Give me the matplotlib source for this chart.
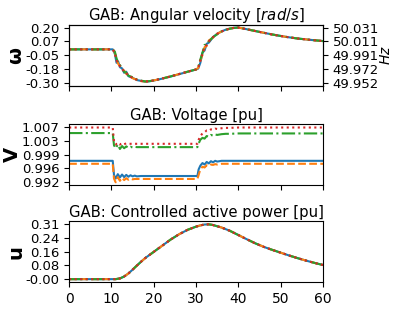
import numpy as np
import matplotlib
matplotlib.use("Agg")
import matplotlib.pyplot as plt

# time grids (s)
t_w = [0, 10.3, 10.8, 11.2, 11.6, 12.0, 12.5, 13.0, 13.5, 14, 15, 16, 17, 18, 19, 20, 22, 24, 26, 28, 30,
       30.5, 31, 31.5, 32, 32.5, 33, 34, 35, 36, 37, 38, 39, 40, 42, 45, 48, 51, 54, 57, 60]
t_v = [0, 10.3, 10.6, 11.0, 11.5, 12.0, 12.5, 13.0, 13.5, 14.0, 14.5, 15.0, 15.5, 16, 17, 18, 20, 25, 30.3,
       30.6, 31, 31.5, 32, 32.5, 33, 33.5, 34, 34.5, 35, 36, 37, 38, 40, 45, 50, 60]
t_u = [0, 10, 11, 12, 13, 14, 15, 16, 17, 18, 20, 22, 24, 26, 28, 30, 31, 32, 33, 34, 36, 38, 40,
       42, 44, 46, 48, 50, 52, 54, 56, 58, 60]

# angular velocity [rad/s], four machines
w_1 = [0, 0, -0.04, -0.12, -0.11, -0.16, -0.17, -0.21, -0.20, -0.24, -0.255, -0.275, -0.282, -0.290, -0.286,
       -0.279, -0.262, -0.243, -0.222, -0.201, -0.180, -0.172, -0.12, -0.03, -0.01, 0.05, 0.06, 0.11, 0.14,
       0.16, 0.176, 0.186, 0.193, 0.195, 0.180, 0.156, 0.133, 0.113, 0.097, 0.085, 0.074]
w_2 = [0, 0, -0.03, -0.09, -0.13, -0.15, -0.18, -0.19, -0.22, -0.23, -0.258, -0.272, -0.285, -0.288, -0.285,
       -0.278, -0.261, -0.242, -0.221, -0.200, -0.180, -0.165, -0.10, -0.05, 0.02, 0.03, 0.08, 0.105, 0.14,
       0.16, 0.175, 0.186, 0.193, 0.195, 0.180, 0.156, 0.133, 0.113, 0.097, 0.085, 0.074]
w_3 = [0, 0, -0.02, -0.08, -0.12, -0.14, -0.17, -0.20, -0.21, -0.235, -0.25, -0.27, -0.280, -0.287, -0.284,
       -0.278, -0.261, -0.242, -0.221, -0.200, -0.180, -0.160, -0.09, -0.03, 0.04, 0.04, 0.07, 0.11, 0.135,
       0.16, 0.175, 0.185, 0.192, 0.195, 0.180, 0.156, 0.133, 0.113, 0.097, 0.085, 0.074]
w_4 = [0, 0, -0.03, -0.10, -0.12, -0.15, -0.17, -0.20, -0.21, -0.235, -0.255, -0.272, -0.282, -0.288, -0.285,
       -0.278, -0.261, -0.242, -0.221, -0.200, -0.180, -0.165, -0.10, -0.04, 0.02, 0.04, 0.07, 0.11, 0.14,
       0.16, 0.175, 0.186, 0.193, 0.195, 0.180, 0.156, 0.133, 0.113, 0.097, 0.085, 0.074]

# voltage [pu]
v_1 = [0.9978, 0.9978, 0.9940, 0.9930, 0.9942, 0.9933, 0.9941, 0.9934, 0.9940, 0.9935, 0.9939, 0.9936,
       0.9938, 0.9936, 0.9937, 0.9937, 0.9937, 0.9937, 0.9937, 0.9955, 0.9965, 0.9972, 0.9968, 0.9975,
       0.9971, 0.9977, 0.9974, 0.9978, 0.9976, 0.9978, 0.9978, 0.9978, 0.9978, 0.9978, 0.9978, 0.9978]
v_2 = [0.9970, 0.9970, 0.9930, 0.9920, 0.9934, 0.9924, 0.9932, 0.9926, 0.9931, 0.9927, 0.9930, 0.9928,
       0.9929, 0.9929, 0.9929, 0.9929, 0.9929, 0.9929, 0.9929, 0.9940, 0.9955, 0.9962, 0.9960, 0.9966,
       0.9964, 0.9968, 0.9967, 0.9969, 0.9968, 0.9970, 0.9970, 0.9970, 0.9970, 0.9970, 0.9970, 0.9970]
v_3 = [1.0053, 1.0053, 1.0020, 1.0012, 1.0022, 1.0010, 1.0018, 1.0012, 1.0017, 1.0013, 1.0016, 1.0014,
       1.0016, 1.0015, 1.0015, 1.0015, 1.0015, 1.0015, 1.0015, 1.0025, 1.0035, 1.0040, 1.0038, 1.0045,
       1.0043, 1.0048, 1.0046, 1.0049, 1.0048, 1.0050, 1.0051, 1.0051, 1.0052, 1.0052, 1.0052, 1.0052]
v_4 = [1.0068, 1.0068, 1.0030, 1.0022, 1.0027, 1.0022, 1.0026, 1.0023, 1.0025, 1.0024, 1.0024, 1.0024,
       1.0024, 1.0024, 1.0024, 1.0024, 1.0024, 1.0024, 1.0024, 1.0035, 1.0045, 1.0052, 1.0055, 1.0060,
       1.0059, 1.0063, 1.0062, 1.0065, 1.0064, 1.0066, 1.0067, 1.0067, 1.0068, 1.0068, 1.0068, 1.0068]

# controlled active power [pu] (same for all four)
u_all = [0, 0, 0, 0.004, 0.015, 0.032, 0.054, 0.077, 0.099, 0.12, 0.155, 0.19, 0.225, 0.255, 0.28, 0.298,
         0.305, 0.31, 0.311, 0.307, 0.293, 0.274, 0.25, 0.226, 0.203, 0.183, 0.166, 0.15, 0.134, 0.119,
         0.105, 0.092, 0.08]

w_ticks = [-0.302, -0.17775, -0.0535, 0.07075, 0.195]
v_ticks = [0.992, 0.99575, 0.9995, 1.00325, 1.007]
v_labels = ["0.992", "0.996", "0.999", "1.003", "1.007"]
u_ticks = [-0.001, 0.07775, 0.1565, 0.23525, 0.314]

styles = [("C0", "-"), ("C1", "--"), ("C2", "-."), ("C3", ":")]

fig = plt.figure(figsize=(3.95, 3.10), dpi=100)
ax1 = fig.add_axes([0.175, 0.723, 0.643, 0.197])
ax2 = fig.add_axes([0.175, 0.403, 0.643, 0.197], sharex=ax1)
ax3 = fig.add_axes([0.175, 0.090, 0.643, 0.197], sharex=ax1)

for w, (c, ls) in zip([w_1, w_2, w_3, w_4], styles):
    ax1.plot(t_w, w, color=c, linestyle=ls, linewidth=1.5)
for v, (c, ls) in zip([v_1, v_2, v_3, v_4], styles):
    ax2.plot(t_v, v, color=c, linestyle=ls, linewidth=1.5)
for c, ls in styles:
    ax3.plot(t_u, u_all, color=c, linestyle=ls, linewidth=1.5)

ax1.set_xlim(0, 60)
fs = 9.5
tfs = 10.7

def pad(lo, hi):
    m = 0.05 * (hi - lo)
    return lo - m, hi + m

ax1.set_ylim(*pad(w_ticks[0], w_ticks[-1]))
ax1.set_yticks(w_ticks)
ax1.set_yticklabels([f"{x:.2f}" for x in w_ticks])
ax1.set_title("GAB: Angular velocity [$rad/s$]", fontsize=tfs, pad=3)
ax1.set_ylabel("ω", fontsize=14, fontweight="bold", labelpad=0)

axr = ax1.twinx()
lo, hi = ax1.get_ylim()
axr.set_ylim(50 + lo / (2 * np.pi), 50 + hi / (2 * np.pi))
hz_ticks = [50 + x / (2 * np.pi) for x in w_ticks]
axr.set_yticks(hz_ticks)
axr.set_yticklabels([f"{x:.3f}" for x in hz_ticks])
axr.set_ylabel("$Hz$", fontsize=10, labelpad=0)
axr.tick_params(labelsize=fs)

ax2.set_ylim(*pad(v_ticks[0], v_ticks[-1]))
ax2.set_yticks(v_ticks)
ax2.set_yticklabels(v_labels)
ax2.set_title("GAB: Voltage [pu]", fontsize=tfs, pad=3)
ax2.set_ylabel("V", fontsize=14, fontweight="bold", labelpad=0)

ax3.set_ylim(*pad(u_ticks[0], u_ticks[-1]))
ax3.set_yticks(u_ticks)
ax3.set_yticklabels([f"{x:.2f}" for x in u_ticks])
ax3.set_title("GAB: Controlled active power [pu]", fontsize=tfs, pad=3)
ax3.set_ylabel("u", fontsize=14, fontweight="bold", labelpad=0)
ax3.set_xticks([0, 10, 20, 30, 40, 50, 60])

for ax in (ax1, ax2, ax3):
    ax.tick_params(labelsize=fs)
for ax in (ax1, ax2):
    ax.tick_params(labelbottom=False)
ax3.tick_params(axis="x", labelsize=10)

fig.savefig("out.png", dpi=100)
